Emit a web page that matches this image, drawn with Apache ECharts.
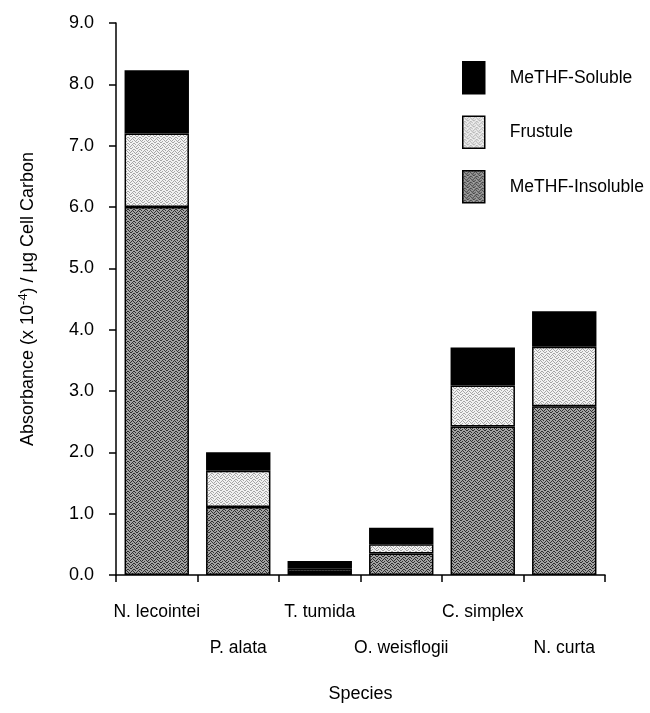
<!DOCTYPE html>
<html>
<head>
<meta charset="utf-8">
<script src="https://cdn.jsdelivr.net/npm/echarts@6/dist/echarts.min.js"></script>
<style>
  html, body { margin: 0; padding: 0; background: #fff; }
  #chart { width: 650px; height: 713px; }
</style>
</head>
<body>
<div id="chart"></div>
<script>
// species on the x axis
var species = ['N. lecointei', 'P. alata', 'T. tumida', 'O. weisflogii', 'C. simplex', 'N. curta'];
// stacked components, bottom to top (x 10^-4 per ug cell carbon)
var insoluble = [6.00, 1.11, 0.05, 0.35, 2.42, 2.75];
var frustule  = [1.20, 0.59, 0.05, 0.15, 0.67, 0.97];
var soluble   = [1.03, 0.30, 0.13, 0.27, 0.62, 0.58];
var legendOrder = ['MeTHF-Soluble', 'Frustule', 'MeTHF-Insoluble'];

var FONT = 'Liberation Sans';

// 6x6 screen tile, '1' = dark dot; hand drawn so it doesn't read as stripes
var screenMask = [
    '100100',
    '010001',
    '001010',
    '100100',
    '000011',
    '011000'
];

function stipple(dark, light, mask) {
    var c = document.createElement('canvas');
    c.width = 6; c.height = 6;
    var ctx = c.getContext('2d');
    ctx.fillStyle = light;
    ctx.fillRect(0, 0, 6, 6);
    ctx.fillStyle = dark;
    for (var y = 0; y < 6; y++) {
        for (var x = 0; x < 6; x++) {
            if (mask[y].charAt(x) === '1') ctx.fillRect(x, y, 1, 1);
        }
    }
    return { image: c, repeat: 'repeat' };
}

var insolubleFill = stipple('#2e2e2e', '#a2a2a2', screenMask);
var frustuleFill = stipple('#a6a6a6', '#f2f2f2', screenMask);

function barSeries(name, data, fill) {
    return {
        name: name,
        type: 'bar',
        stack: 'total',
        barCategoryGap: '21%',
        data: data,
        itemStyle: { color: fill, borderColor: '#000', borderWidth: 1.5 }
    };
}

var chart = echarts.init(document.getElementById('chart'));
chart.setOption({
    animation: false,
    textStyle: { fontFamily: FONT, color: '#000' },
    grid: { left: 116, right: 45, top: 23, bottom: 138, containLabel: false },
    legend: {
        orient: 'vertical',
        left: 462,
        top: 61,
        padding: 0,
        itemWidth: 22,
        itemHeight: 32,
        itemGap: 21,
        icon: 'rect',
        data: legendOrder,
        textStyle: { fontFamily: FONT, fontSize: 17.5, color: '#000', padding: [0, 0, 0, 20] },
        itemStyle: { borderColor: '#000', borderWidth: 1.5 }
    },
    xAxis: {
        type: 'category',
        data: species,
        name: 'Species',
        nameLocation: 'middle',
        nameGap: 110,
        nameTextStyle: { fontFamily: FONT, fontSize: 18, color: '#000' },
        axisLine: { lineStyle: { color: '#000', width: 1.5 } },
        axisTick: { show: true, length: 7, lineStyle: { color: '#000', width: 1.5 } },
        axisLabel: {
            interval: 0,
            margin: 19,
            fontFamily: FONT,
            fontSize: 17.5,
            color: '#000',
            lineHeight: 36,
            formatter: function (val, idx) {
                return idx % 2 === 1 ? '\n' + val : val;
            }
        }
    },
    yAxis: {
        type: 'value',
        min: 0,
        max: 9,
        interval: 1,
        name: 'Absorbance (x 10{sup|-4}) / µg Cell Carbon',
        nameLocation: 'middle',
        nameGap: 77,
        nameTextStyle: {
            fontFamily: FONT, fontSize: 18, color: '#000',
            rich: { sup: { fontFamily: FONT, fontSize: 13, color: '#000', verticalAlign: 'top', padding: [0, 0, 9, 0] } }
        },
        axisLine: { show: true, lineStyle: { color: '#000', width: 1.5 } },
        axisTick: { show: true, length: 7, lineStyle: { color: '#000', width: 1.5 } },
        splitLine: { show: false },
        axisLabel: {
            margin: 22,
            fontFamily: FONT,
            fontSize: 18,
            color: '#000',
            formatter: function (v) { return v.toFixed(1); }
        }
    },
    series: [
        barSeries('MeTHF-Insoluble', insoluble, insolubleFill),
        barSeries('Frustule', frustule, frustuleFill),
        barSeries('MeTHF-Soluble', soluble, '#000')
    ]
});
</script>
</body>
</html>
